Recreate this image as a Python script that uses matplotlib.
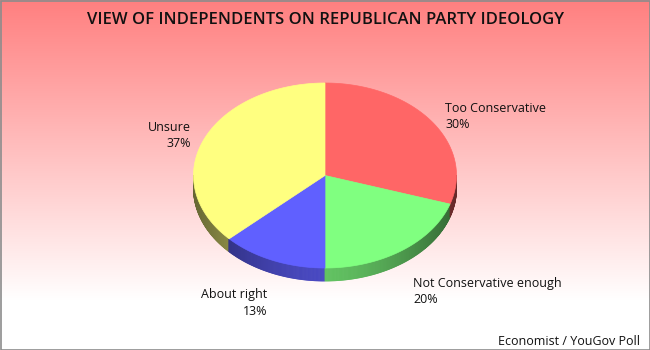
"""Tilted 3D-style pie of how independents see Republican party ideology."""

from __future__ import annotations

import matplotlib

matplotlib.use("Agg")

import matplotlib.pyplot as plt
import numpy as np
from matplotlib.collections import PolyCollection
from matplotlib.patches import Polygon, Rectangle

plt.rcParams["font.family"] = ["Open Sans", "DejaVu Sans"]

TITLE = "VIEW OF INDEPENDENTS ON REPUBLICAN PARTY IDEOLOGY"
SOURCE = "Economist / YouGov Poll"

categories = ["Too Conservative", "Not Conservative enough", "About right", "Unsure"]
shares = [30, 20, 13, 37]
slice_colors = ["#FF6666", "#80FF80", "#6060FF", "#FFFF80"]

# Ellipse geometry in pixel space (y grows downward).
CX, CY = 325.0, 175.5
RX, RY = 131.5, 92.5
DEPTH = 13.0


def ellipse_point(theta: np.ndarray | float, dy: float = 0.0):
    """Point on the pie rim for a math angle in radians."""
    return CX + RX * np.cos(theta), CY - RY * np.sin(theta) + dy


def slice_bounds(values: list[float]) -> list[tuple[float, float]]:
    """Start/end angles (degrees) going clockwise from 12 o'clock."""
    total = float(sum(values))
    bounds = []
    start = 90.0
    for value in values:
        end = start - 360.0 * value / total
        bounds.append((start, end))
        start = end
    return bounds


def shade(theta: float) -> float:
    """Brightness of the side wall, darker toward the left/right edges."""
    return 0.76 - 0.36 * abs(np.cos(theta)) ** 1.5


def draw_background(axis) -> None:
    height = 350
    rows = np.arange(height) / 300.0
    t = np.clip(rows, 0.0, 1.0)[:, None]
    top = np.array([1.0, 0.5, 0.5])
    gradient = top * (1 - t) + np.array([1.0, 1.0, 1.0]) * t
    image = np.repeat(gradient[:, None, :], 2, axis=1)
    axis.imshow(image, extent=(0, 650, 350, 0), aspect="auto", zorder=0)
    axis.add_patch(Rectangle((0.5, 0.5), 649, 349, fill=False,
                             edgecolor="#8c8c8c", linewidth=1.2, zorder=10))


def draw_pie(axis, bounds: list[tuple[float, float]]) -> None:
    # Side wall on the front half of the ellipse, drawn as thin shaded strips.
    quads, colors = [], []
    steps = np.linspace(np.pi, 2 * np.pi, 361)
    for a0, a1 in zip(steps[:-1], steps[1:]):
        mid = 0.5 * (a0 + a1)
        mid_deg = np.degrees(mid) - 360.0
        for (start, end), color in zip(bounds, slice_colors):
            lo, hi = min(start, end), max(start, end)
            if lo <= mid_deg <= hi or lo <= mid_deg + 360 <= hi:
                base = np.array(matplotlib.colors.to_rgb(color))
                break
        x0, y0 = ellipse_point(a0)
        x1, y1 = ellipse_point(a1)
        quads.append([(x0, y0), (x1, y1), (x1, y1 + DEPTH), (x0, y0 + DEPTH)])
        colors.append(np.clip(base * shade(mid), 0, 1))
    axis.add_collection(PolyCollection(quads, facecolors=colors,
                                       edgecolors=colors, linewidths=0.6, zorder=2))

    for (start, end), color in zip(bounds, slice_colors):
        arc = np.radians(np.linspace(start, end, 200))
        xs, ys = ellipse_point(arc)
        points = np.column_stack([np.r_[CX, xs], np.r_[CY, ys]])
        axis.add_patch(Polygon(points, closed=True, facecolor=color,
                               edgecolor=color, linewidth=0.5, zorder=3))


def draw_labels(axis) -> None:
    # (x, baseline y, horizontal alignment) for each category label.
    placements = [
        (445, 111.7, "left"),
        (413, 286.7, "left"),
        (267, 298.3, "right"),
        (191, 130.7, "right"),
    ]
    for name, value, (x, y, ha) in zip(categories, shares, placements):
        axis.text(x, y, name, ha=ha, va="baseline", fontsize=9, color="#111111")
        axis.text(x, y + 16.6, f"{value}%", ha=ha, va="baseline",
                  fontsize=9, color="#111111")


def main() -> None:
    fig = plt.figure(figsize=(6.5, 3.5), dpi=100)
    axis = fig.add_axes((0, 0, 1, 1))
    axis.set_xlim(0, 650)
    axis.set_ylim(350, 0)
    axis.axis("off")

    draw_background(axis)
    draw_pie(axis, slice_bounds(shares))
    draw_labels(axis)

    axis.text(325.5, 24, TITLE, ha="center", va="baseline", fontsize=12,
              fontweight="semibold", color="#111111")
    axis.text(640.5, 345, SOURCE, ha="right", va="baseline", fontsize=9,
              color="#111111")

    fig.savefig("out.png", dpi=100)
    plt.close(fig)


if __name__ == "__main__":
    main()
